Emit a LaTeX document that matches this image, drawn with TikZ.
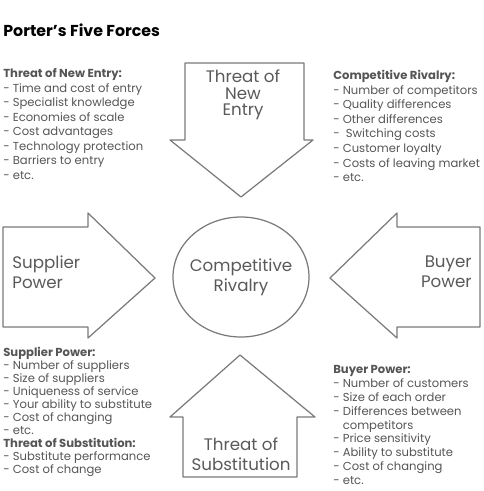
\documentclass[tikz,border=0pt]{standalone}
\usepackage{fontspec}
\setmainfont{Poppins}
\usepackage{xcolor}
\usetikzlibrary{positioning}
\definecolor{outline}{HTML}{7A7A7A}
\definecolor{labelgray}{HTML}{5A5A5A}
\definecolor{listgray}{HTML}{555555}

\begin{document}
\begin{tikzpicture}[x=0.02cm,y=-0.02cm,every node/.style={inner sep=0pt}]
    \tikzstyle{force}=[draw=outline,line width=0.7pt,line join=round,fill=white];
    \tikzstyle{big}=[font=\fontsize{9.5}{11.3}\selectfont,text=labelgray];
    \tikzstyle{list}=[font=\fontsize{6.6}{8.3}\selectfont,text=listgray,align=left,anchor=north west];
    \useasboundingbox (0,0) rectangle (484,491);
    % title
    \node[anchor=west,font=\fontsize{9}{10}\selectfont\bfseries] (title) at (3,30) {Porter's Five Forces};
    % the five forces
    \draw[force] (185,63) -- (304,63) -- (304,140) -- (313,140) -- (241,197) -- (170,140) -- (185,140) -- cycle;
    \draw[force] (3,227) -- (88,227) -- (88,213) -- (155,278) -- (88,338) -- (88,327) -- (3,327) -- cycle;
    \draw[force] (480,227) -- (397,227) -- (397,213) -- (330,278) -- (397,338) -- (397,327) -- (480,327) -- cycle;
    \draw[force] (240,355) -- (315,417) -- (297,417) -- (297,477) -- (183,477) -- (183,417) -- (170,417) -- cycle;
    \draw[force] (241,277) ellipse [x radius=68,y radius=60];
    \node[big,align=center,font=\fontsize{9.5}{9.3}\selectfont] (entry) at (243,95) {Threat of\\New\\Entry};
    \node[big,align=left,anchor=west] (supplier) at (12,272) {Supplier\\Power};
    \node[big,align=center] (rivalry) at (241,277) {Competitive\\Rivalry};
    \node[big,align=right,anchor=east] (buyer) at (472,272) {Buyer\\Power};
    \node[big,align=center] (subst) at (241,454) {Threat of\\Substitution};
    % lists
    \node[list] (entrytxt) at (3,68)
       {\textbf{Threat of New Entry:}\\- Time and cost of entry\\- Specialist knowledge\\- Economies of scale\\- Cost advantages\\- Technology protection\\- Barriers to entry\\- etc.};
    \node[list] (rivalrytxt) at (333,70)
       {\textbf{Competitive Rivalry:}\\- Number of competitors\\- Quality differences\\- Other differences\\-\ \ Switching costs\\- Customer loyalty\\- Costs of leaving market\\- etc.};
    \node[list,font=\fontsize{6.6}{7.4}\selectfont] (suppliertxt) at (3,347)
       {\textbf{Supplier Power:}\\- Number of suppliers\\- Size of suppliers\\- Uniqueness of service\\- Your ability to substitute\\- Cost of changing\\- etc.\\\textbf{Threat of Substitution:}\\- Substitute performance\\- Cost of change};
    \node[list,font=\fontsize{6.6}{7.9}\selectfont] (buyertxt) at (333,365)
       {\textbf{Buyer Power:}\\- Number of customers\\- Size of each order\\- Differences between\\\phantom{- }competitors\\- Price sensitivity\\- Ability to substitute\\- Cost of changing\\- etc.};
  \end{tikzpicture}
\end{document}
